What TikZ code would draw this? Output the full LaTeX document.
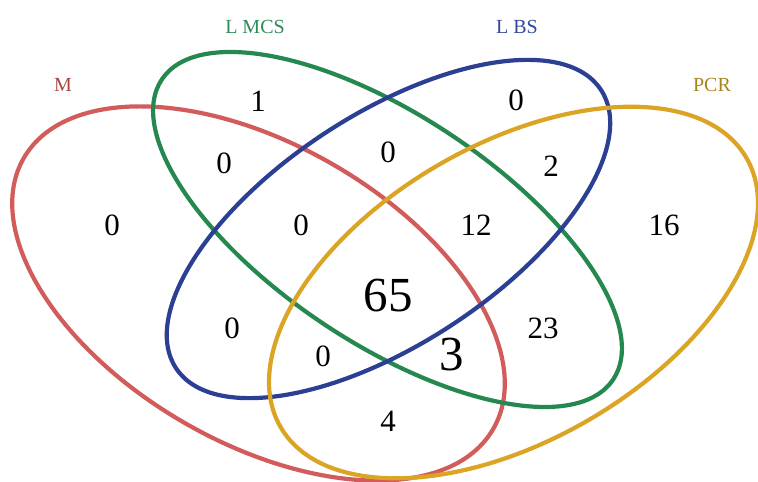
\documentclass[tikz,border=0pt]{standalone}
\usepackage{fontspec}
\setmainfont{Liberation Serif}
\definecolor{colM}{HTML}{D25C5C}
\definecolor{colMCS}{HTML}{24884F}
\definecolor{colBS}{HTML}{2B3F93}
\definecolor{colPCR}{HTML}{DCA425}
\definecolor{txtM}{HTML}{A84444}
\definecolor{txtMCS}{HTML}{2E8B57}
\definecolor{txtBS}{HTML}{34499A}
\definecolor{txtPCR}{HTML}{A88420}

\begin{document}
\begin{tikzpicture}[
    x=1pt,y=-1pt,
    ring/.style={line width=4.2pt},
    setlabel/.style={font=\fontsize{20}{20}\selectfont},
    count/.style={font=\fontsize{31}{31}\selectfont},
    bigcount/.style={font=\fontsize{49}{49}\selectfont}
  ]
    \useasboundingbox (0,0) rectangle (758,482);
    \coordinate (cM) at (258.5,293.5);
    \coordinate (cMCS) at (387.5,229.5);
    \coordinate (cBS) at (388.5,229);
    \coordinate (cPCR) at (513.5,292.5);
    % the four sets
    \draw[ring,colM,rotate around={-30:(cM)}] (cM) ellipse [x radius=271pt,y radius=149pt];
    \draw[ring,colMCS,rotate around={-33.6:(cMCS)}] (cMCS) ellipse [x radius=271pt,y radius=114pt];
    \draw[ring,colBS,rotate around={33.2:(cBS)}] (cBS) ellipse [x radius=254pt,y radius=115pt];
    \draw[ring,colPCR,rotate around={30:(cPCR)}] (cPCR) ellipse [x radius=269pt,y radius=148pt];
    % set names
    \node[setlabel,txtM] (lblM) at (63,85) {M};
    \node[setlabel,txtMCS] (lblMCS) at (255,27) {L MCS};
    \node[setlabel,txtBS] (lblBS) at (517,27) {L BS};
    \node[setlabel,txtPCR] (lblPCR) at (712,85) {PCR};
    % region counts
    \node[count] (nM) at (112,225) {0};
    \node[count] (nMCS) at (258,101) {1};
    \node[count] (nBS) at (516,100) {0};
    \node[count] (nPCR) at (664,225) {16};
    \node[count] (nMMCS) at (224,163) {0};
    \node[count] (nMCSBS) at (388,152) {0};
    \node[count] (nBSPCR) at (551,166) {2};
    \node[count] (nMMCSBS) at (301,225) {0};
    \node[count] (nMCSBSPCR) at (476,225) {12};
    \node[bigcount] (nAll) at (388,296) {65};
    \node[count] (nMBS) at (232,328) {0};
    \node[count] (nMBSPCR) at (323,356) {0};
    \node[bigcount] (nMMCSPCR) at (452,355) {3};
    \node[count] (nMCSPCR) at (543,328) {23};
    \node[count] (nMPCR) at (388,421) {4};
  \end{tikzpicture}
\end{document}
